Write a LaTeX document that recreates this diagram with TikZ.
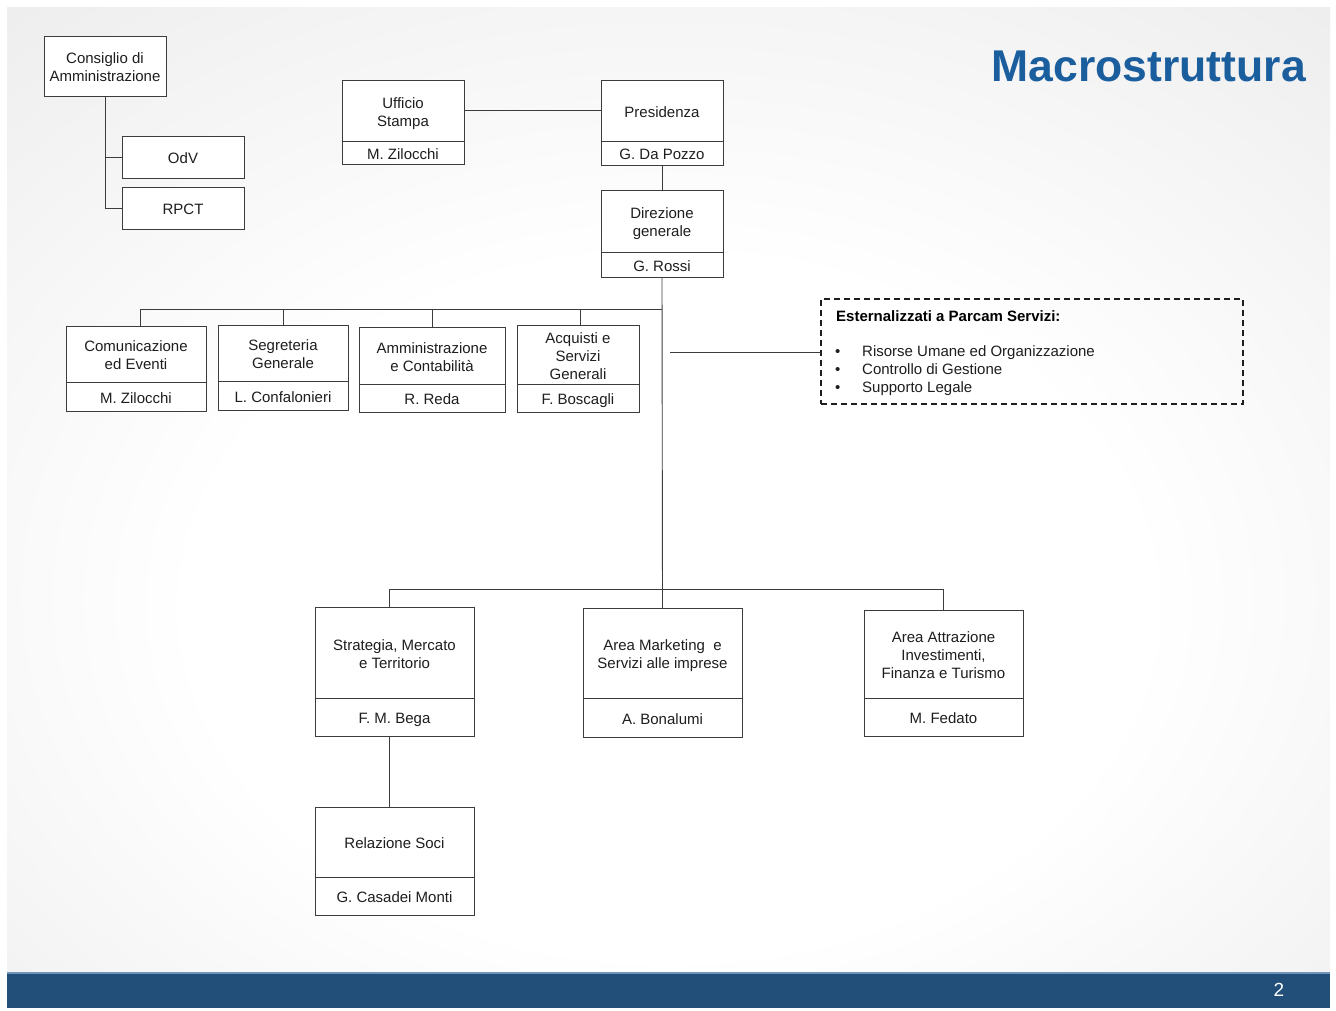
\documentclass[tikz,border=0pt]{standalone}
\usepackage{fontspec}
\setmainfont{Liberation Sans}
\usetikzlibrary{calc}
\definecolor{barblue}{HTML}{214F79}
\definecolor{barline}{HTML}{6E94BA}
\definecolor{titleblue}{HTML}{1B5E9E}
\definecolor{linegray}{HTML}{3C3C3C}
\definecolor{txtgray}{HTML}{1E1E1E}
\definecolor{bgedge}{HTML}{E2E2E2}
\pgfdeclareradialshading{slidebg}{\pgfpoint{0bp}{-8bp}}{color(0bp)=(white); color(18bp)=(white); color(52bp)=(bgedge); color(75bp)=(bgedge)}
\tikzset{
  box/.style={draw=linegray, fill=white, line width=0.9pt, inner sep=0pt, outer sep=0pt, rectangle},
  conn/.style={draw=linegray, line width=0.9pt},
  txt/.style={align=center, inner sep=0pt, text=txtgray, font=\fontsize{15}{18}\selectfont,
    execute at begin node=\vphantom{Ag}, execute at end node=\vphantom{g}, yshift=-3pt},
  basetxt/.style={anchor=base west, inner sep=0pt, text=txtgray, font=\fontsize{15}{18}\selectfont},
}
% #1 name, #2 x1, #3 y1, #4 x2, #5 y2, #6 divider y, #7 top text, #8 bottom text
\newcommand\obox[8]{%
  \node[box, minimum width={(#4-#2)*1pt}, minimum height={(#5-#3)*1pt}] (#1) at ({(#2+#4)/2},{(#3+#5)/2}) {};
  \draw[conn] (#1.west |- 0,#6) -- (#1.east |- 0,#6);
  \node[txt] (#1-t) at ({(#2+#4)/2},{(#3+#6)/2}) {#7};
  \node[txt] (#1-b) at ({(#2+#4)/2},{(#6+#5)/2}) {#8};
}
\newcommand\singlebox[6]{%
  \node[box, minimum width={(#4-#2)*1pt}, minimum height={(#5-#3)*1pt}] (#1) at ({(#2+#4)/2},{(#3+#5)/2}) {};
  \node[txt] (#1-t) at (#1.center) {#6};
}
\begin{document}
\begin{tikzpicture}[x=1pt,y=-1pt]
\useasboundingbox (0,0) rectangle (1336,1010);
% background
\fill[white] (0,0) rectangle (1336,1010);
\shade[shading=slidebg] (7,7) rectangle (1330,973);
\fill[barblue] (7,973) rectangle (1330,1008);
\draw[barline, line width=1.5pt] (7,973) -- (1330,973);
\node[anchor=center, inner sep=0pt, text=white, font=\fontsize{19}{22}\selectfont] (pagenum) at (1279,990) {2};
% title
\node[anchor=east, inner sep=0pt, text=titleblue, font=\bfseries\fontsize{44.5}{50}\selectfont] (title) at (1306,66) {Macrostruttura};

% Consiglio group
\singlebox{cda}{44}{36}{166}{96}{Consiglio di\\Amministrazione}
\singlebox{odv}{122}{136}{244}{178}{OdV}
\singlebox{rpct}{122}{187}{244}{229}{RPCT}
\draw[conn] (cda.south) |- (rpct.west);
\draw[conn] (odv.west) -- (odv.west -| cda.south);

% top chain
\obox{uff}{342}{80}{464}{164}{141}{Ufficio\\Stampa}{M. Zilocchi}
\obox{pres}{601}{80}{723}{165}{141}{Presidenza}{G. Da Pozzo}
\obox{dir}{601}{190}{723}{277}{252}{Direzione\\generale}{G. Rossi}
\draw[conn] (uff.east |- 0,110) -- (pres.west |- 0,110);
\draw[conn] (pres.south) -- (dir.north);

% first row
\obox{com}{66}{326}{206}{411}{382}{Comunicazione\\ed Eventi}{M. Zilocchi}
\obox{seg}{218}{325}{348}{410}{381}{Segreteria\\Generale}{L. Confalonieri}
\obox{amm}{359}{327}{505}{412}{384}{Amministrazione\\e Contabilità}{R. Reda}
\obox{acq}{517}{325}{639}{412}{384}{Acquisti e\\Servizi\\Generali}{F. Boscagli}
\coordinate (bar1) at (662,309);
\draw[conn] ($(com.north)+(4,0)$) |- (bar1);
\draw[conn] (seg.north) -- (seg.north |- bar1);
\draw[conn] (amm.north) -- (amm.north |- bar1);
\draw[conn] ($(acq.north)+(2,0)$) -- ($(acq.north |- bar1)+(2,0)$);

% outsourced box
\node[draw=txtgray, dash pattern=on 6pt off 4pt, line width=1.4pt, minimum width=422pt, minimum height=105pt, inner sep=0pt, outer sep=0pt] (ext) at (1032,351.5) {};
\node[anchor=base west, inner sep=0pt, text=black, font=\bfseries\fontsize{15}{18}\selectfont] (ext-h) at (836,321.5) {Esternalizzati a Parcam Servizi:};
\node[basetxt] (ext-d1) at (835,356.5) {•};
\node[basetxt] (ext-d2) at (835,374.5) {•};
\node[basetxt] (ext-d3) at (835,392.5) {•};
\node[basetxt] (ext-1) at (862,356.5) {Risorse Umane ed Organizzazione};
\node[basetxt] (ext-2) at (862,374.5) {Controllo di Gestione};
\node[basetxt] (ext-3) at (862,392.5) {Supporto Legale};
\coordinate (extfree) at (670,352);
\draw[conn] (extfree) -- (ext.west |- extfree);

% second row
\obox{str}{315}{607}{474}{736}{698}{Strategia, Mercato\\e Territorio}{F. M. Bega}
\obox{mkt}{583}{608}{742}{737}{698}{Area Marketing \ e\\Servizi alle imprese}{A. Bonalumi}
\obox{att}{864}{610}{1023}{736}{698}{Area Attrazione\\Investimenti,\\Finanza e Turismo}{M. Fedato}
\obox{rel}{315}{807}{474}{915}{877}{Relazione Soci}{G. Casadei Monti}
\coordinate (bar2) at (662,589);
\draw[conn] (dir.south) -- (mkt.north);
\draw[conn] ($(str.north)+(-5.5,0)$) |- (bar2) -| (att.north);
\draw[conn] ($(str.south)+(-5.5,0)$) -- ($(rel.north)+(-5.5,0)$);
\end{tikzpicture}
\end{document}
